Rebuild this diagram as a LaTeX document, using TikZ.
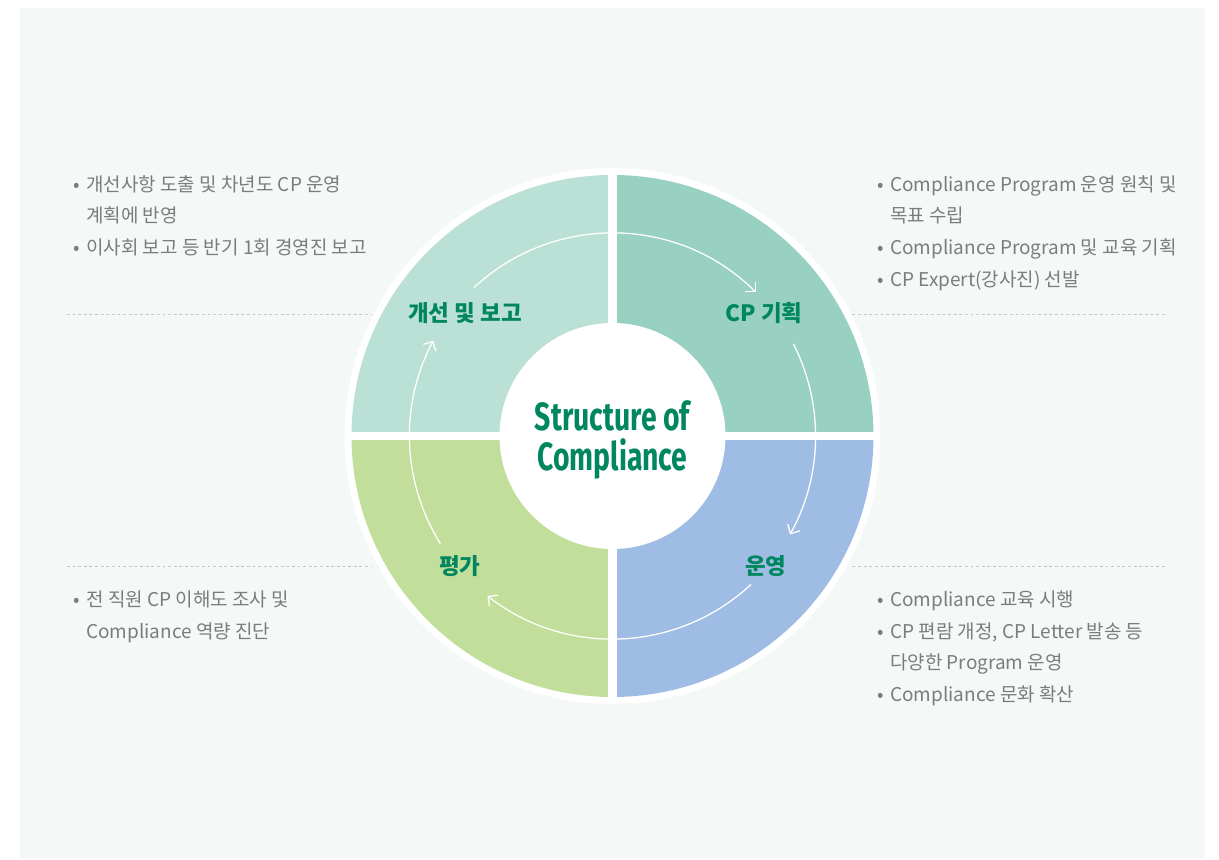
\documentclass[tikz,border=0pt]{standalone}
\usepackage{fontspec}
\setmainfont{Noto Sans CJK KR}
\newfontfamily\titlefont{Fira Sans}
\usetikzlibrary{arrows.meta}
\definecolor{panel}{HTML}{F4F8F7}
\definecolor{tlquad}{HTML}{BBE0D5}
\definecolor{trquad}{HTML}{98D0C1}
\definecolor{brquad}{HTML}{9FBDE4}
\definecolor{blquad}{HTML}{C2DE9B}
\definecolor{cpgreen}{HTML}{00875F}
\definecolor{bodygray}{HTML}{7C7C7C}
\definecolor{guidegray}{HTML}{C4C8C7}
\newcommand\bul{\makebox[8.9pt][l]{•}}

\begin{document}
\begin{tikzpicture}[x=0.025cm,y=0.025cm,
  body/.style={anchor=base west,inner sep=0,font=\fontsize{13.5}{15}\selectfont,text=bodygray},
  quadlabel/.style={inner sep=0,font=\fontsize{16}{18}\selectfont\bfseries,text=cpgreen},
  cyclearrow/.style={white,line width=0.9pt,-{Straight Barb[length=5pt,width=10pt]}},
  guide/.style={draw=guidegray,line width=0.7pt,dash pattern=on 2pt off 2pt}]
\useasboundingbox (-612.5,-424) rectangle (606.5,436);
% panel
\fill[panel] (-592.5,-422) rectangle (592.5,428);
% guide lines behind the wheel
\draw[guide] (-545.5,122) -- (-240,122);
\draw[guide] (240,122) -- (552.5,122);
\draw[guide] (-545.5,-130) -- (-240,-130);
\draw[guide] (240,-130) -- (552.5,-130);
% wheel
\coordinate (hub) at (0,0);
\fill[white] (hub) circle[radius=268];
\foreach \a/\col in {0/trquad,90/tlquad,180/blquad,270/brquad}
  \fill[\col] (hub) -- (\a:261) arc[start angle=\a,end angle=\a+90,radius=261] -- cycle;
\draw[white,line width=5.7pt] (-265,0) -- (265,0);
\draw[white,line width=5.7pt] (0,-265) -- (0,265);
\fill[white] (hub) circle[radius=113];
% cycle arrows
\foreach \s/\e in {133/45,27/-29,-47/-128,212/152}
  \draw[cyclearrow] (\s:203) arc[start angle=\s,end angle=\e,radius=203];
% labels
\node[align=center,text=cpgreen,font=\titlefont\bfseries\fontsize{28}{29}\selectfont] (title) at (0,-4)
  {\scalebox{0.72}[1]{Structure of}\\\scalebox{0.72}[1]{Compliance}};
\node[quadlabel] (improve) at (-147.5,123) {개선 및 보고};
\node[quadlabel] (plan) at (151.5,123) {CP 기획};
\node[quadlabel] (operate) at (153.5,-130) {운영};
\node[quadlabel] (assess) at (-152.5,-130) {평가};
% text blocks
\node[body] (imp1) at (-539,244) {\bul 개선사항 도출 및 차년도 CP 운영};
\node[body] (imp2) at (-526.5,213) {계획에 반영};
\node[body] (imp3) at (-539,181) {\bul 이사회 보고 등 반기 1회 경영진 보고};
\node[body] (pln1) at (265,244) {\bul Compliance Program 운영 원칙 및};
\node[body] (pln2) at (277.5,213) {목표 수립};
\node[body] (pln3) at (265,181) {\bul Compliance Program 및 교육 기획};
\node[body] (pln4) at (265,149) {\bul CP Expert(강사진) 선발};
\node[body] (ass1) at (-539,-171) {\bul 전 직원 CP 이해도 조사 및};
\node[body] (ass2) at (-526.5,-203) {Compliance 역량 진단};
\node[body] (opr1) at (265,-171) {\bul Compliance 교육 시행};
\node[body] (opr2) at (265,-203) {\bul CP 편람 개정, CP Letter 발송 등};
\node[body] (opr3) at (277.5,-234) {다양한 Program 운영};
\node[body] (opr4) at (265,-266) {\bul Compliance 문화 확산};
\end{tikzpicture}
\end{document}
